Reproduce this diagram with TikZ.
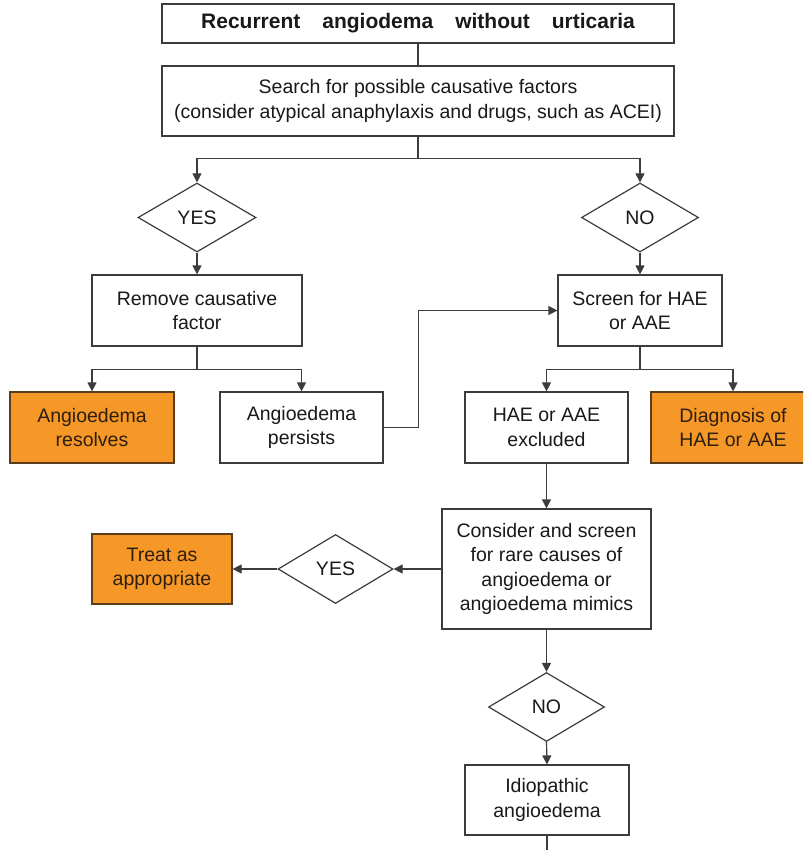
\documentclass[tikz,border=0pt]{standalone}
\usepackage{fontspec}
\setmainfont{Liberation Sans}
\usetikzlibrary{arrows.meta,shapes.geometric}

\definecolor{linegray}{RGB}{60,60,60}
\definecolor{textgray}{RGB}{25,25,25}
\definecolor{outfill}{RGB}{246,152,40}
\definecolor{outdraw}{RGB}{90,60,30}
\definecolor{outtext}{RGB}{45,30,15}

\tikzset{
  box/.style={draw=linegray, line width=1.2pt, fill=white, rectangle,
    inner sep=0pt, align=center, text=textgray,
    font=\fontsize{19.5}{24.5}\selectfont},
  outcome/.style={box, fill=outfill, draw=outdraw, text=outtext},
  decision/.style={draw=linegray, line width=1.2pt, fill=white, diamond,
    inner sep=0pt, text=textgray, font=\fontsize{19.5}{24.5}\selectfont},
  link/.style={draw=linegray, line width=1.2pt},
  arr/.style={link, -{Triangle[length=9pt,width=9pt]}}
}

\begin{document}
\begin{tikzpicture}[x=1pt,y=-1pt]
  \clip (0,0) rectangle (803,850);
  \fill[white] (0,0) rectangle (803,850);

  % top of the chart
  \node[box, minimum width=512pt, minimum height=39pt,
        font=\fontsize{21}{25}\selectfont\bfseries] (title) at (418,23.5)
    {Recurrent\hspace{22pt}angiodema\hspace{22pt}without\hspace{22pt}urticaria};
  \node[box, minimum width=512pt, minimum height=70pt] (search) at (418,101)
    {Search for possible causative factors\\(consider atypical anaphylaxis and drugs, such as ACEI)};

  % first decision
  \node[decision, minimum width=118pt, minimum height=69pt] (yes1) at (197,217.5) {YES};
  \node[decision, minimum width=117pt, minimum height=69pt] (no1) at (640,217.5) {NO};

  \node[box, minimum width=210pt, minimum height=71pt] (remove) at (197,310.5)
    {Remove causative\\factor};
  \node[box, minimum width=164pt, minimum height=71pt] (screen) at (640,310.5)
    {Screen for HAE\\or AAE};

  \node[outcome, minimum width=164pt, minimum height=71pt] (resolves) at (92,427.5)
    {Angioedema\\resolves};
  \node[box, minimum width=163pt, minimum height=71pt] (persists) at (301.5,427.5)
    {Angioedema\\persists};
  \node[box, minimum width=163pt, minimum height=71pt] (excluded) at (546.5,427.5)
    {HAE or AAE\\excluded};
  \node[outcome, minimum width=164pt, minimum height=71pt] (diagnosis) at (733,427.5)
    {Diagnosis of\\HAE or AAE};

  % rare causes
  \node[box, minimum width=209pt, minimum height=120pt] (consider) at (546.5,569)
    {Consider and screen\\for rare causes of\\angioedema or\\angioedema mimics};
  \node[decision, minimum width=115pt, minimum height=69pt] (yes2) at (335.5,569) {YES};
  \node[outcome, minimum width=140pt, minimum height=70pt] (treat) at (162,569)
    {Treat as\\appropriate};
  \node[decision, minimum width=116pt, minimum height=69pt] (no2) at (546.5,707) {NO};
  \node[box, minimum width=164pt, minimum height=70pt] (idio) at (547,800)
    {Idiopathic\\angioedema};
  \coordinate (tail) at (547,860);

  % connectors
  \draw[link] (title.south) -- (search.north);
  \draw[link] (search.south) -- ++(0,22) coordinate (split1);
  \draw[arr] (split1) -| (yes1.north);
  \draw[arr] (split1) -| (no1.north);
  \draw[arr] (yes1.south) -- (remove.north);
  \draw[arr] (no1.south) -- (screen.north);

  \draw[link] (remove.south) -- ++(0,23) coordinate (split2);
  \draw[arr] (split2) -| (resolves.north);
  \draw[arr] (split2) -| (persists.north);
  \draw[arr] (persists.east) -- ++(35,0) |- (screen.west);

  \draw[link] (screen.south) -- ++(0,23) coordinate (split3);
  \draw[arr] (split3) -| (excluded.north);
  \draw[arr] (split3) -| (diagnosis.north);

  \draw[arr] (excluded.south) -- (consider.north);
  \draw[arr] (consider.west) -- (yes2.east);
  \draw[arr] (yes2.west) -- (treat.east);
  \draw[arr] (consider.south) -- (no2.north);
  \draw[arr] (no2.south) -- (idio.north);
  \draw[link] (idio.south) -- (tail);
\end{tikzpicture}
\end{document}
